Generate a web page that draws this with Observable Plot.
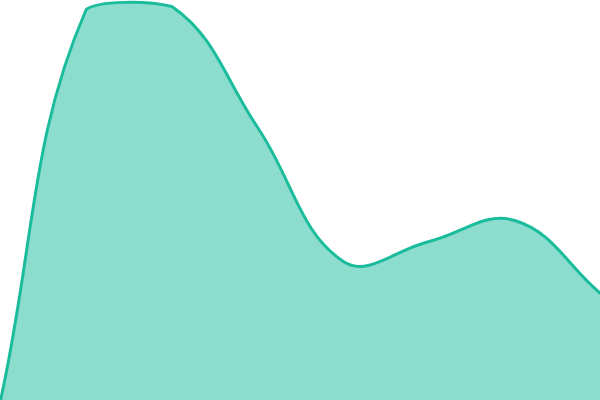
<!DOCTYPE html>
<html>
<head>
<meta charset="utf-8">
<script src="https://cdn.jsdelivr.net/npm/d3@7"></script>
<script src="https://cdn.jsdelivr.net/npm/@observablehq/plot@0.6"></script>
<style>
  html, body { margin: 0; padding: 0; background: #fff; }
  #chart svg { display: block; }
</style>
</head>
<body>
<div id="chart"></div>
<script>
const positions = [0, 1, 2, 3, 4, 5, 6, 7];
const values = [0, 97.75, 98.5, 68.25, 34.75, 39.75, 45, 26.75];

const data = positions.map((p, i) => ({ x: p, y: values[i] }));

const W = 600, H = 400;

// Tension spline with control points capped to the plotting area
function tensionCurve(tension, left, top, right, bottom) {
  const cap = (v, lo, hi) => Math.max(Math.min(v, hi), lo);
  const inArea = (p) => p[0] > left - 0.5 && p[0] < right + 0.5 && p[1] > top - 0.5 && p[1] < bottom + 0.5;
  return function (context) {
    let pts = [], line = NaN;
    return {
      areaStart() { line = 0; },
      areaEnd() { line = NaN; },
      lineStart() { pts = []; },
      point(x, y) { pts.push([+x, +y]); },
      lineEnd() {
        const n = pts.length;
        if (n) {
          const cps = pts.map((cur, i) => {
            const prev = pts[Math.max(0, i - 1)], next = pts[Math.min(n - 1, i + 1)];
            const d01 = Math.hypot(cur[0] - prev[0], cur[1] - prev[1]);
            const d12 = Math.hypot(next[0] - cur[0], next[1] - cur[1]);
            let s01 = d01 / (d01 + d12), s12 = d12 / (d01 + d12);
            if (!isFinite(s01)) s01 = 0;
            if (!isFinite(s12)) s12 = 0;
            const fa = tension * s01, fb = tension * s12;
            return {
              c1: [cur[0] - fa * (next[0] - prev[0]), cur[1] - fa * (next[1] - prev[1])],
              c2: [cur[0] + fb * (next[0] - prev[0]), cur[1] + fb * (next[1] - prev[1])]
            };
          });
          for (let i = 0; i < n; ++i) {
            if (!inArea(pts[i])) continue;
            if (i > 0 && inArea(pts[i - 1])) {
              cps[i].c1 = [cap(cps[i].c1[0], left, right), cap(cps[i].c1[1], top, bottom)];
            }
            if (i < n - 1 && inArea(pts[i + 1])) {
              cps[i].c2 = [cap(cps[i].c2[0], left, right), cap(cps[i].c2[1], top, bottom)];
            }
          }
          if (line) context.lineTo(pts[0][0], pts[0][1]);
          else context.moveTo(pts[0][0], pts[0][1]);
          for (let i = 1; i < n; ++i) {
            const a = cps[i - 1].c2, b = cps[i].c1;
            context.bezierCurveTo(a[0], a[1], b[0], b[1], pts[i][0], pts[i][1]);
          }
        }
        if (line || (line !== 0 && n === 1)) context.closePath();
        line = 1 - line;
      }
    };
  };
}

const curve = tensionCurve(0.4, 0, 0, W, H);

const chart = Plot.plot({
  width: W,
  height: H,
  margin: 0,
  x: { domain: [0, 7], axis: null },
  y: { domain: [0, 100], axis: null },
  marks: [
    Plot.areaY(data, { x: "x", y: "y", curve, fill: "#1abc9c", fillOpacity: 0.5 }),
    Plot.lineY(data, { x: "x", y: "y", curve, stroke: "#1abc9c", strokeWidth: 3 })
  ]
});
document.getElementById("chart").appendChild(chart);
</script>
</body>
</html>
